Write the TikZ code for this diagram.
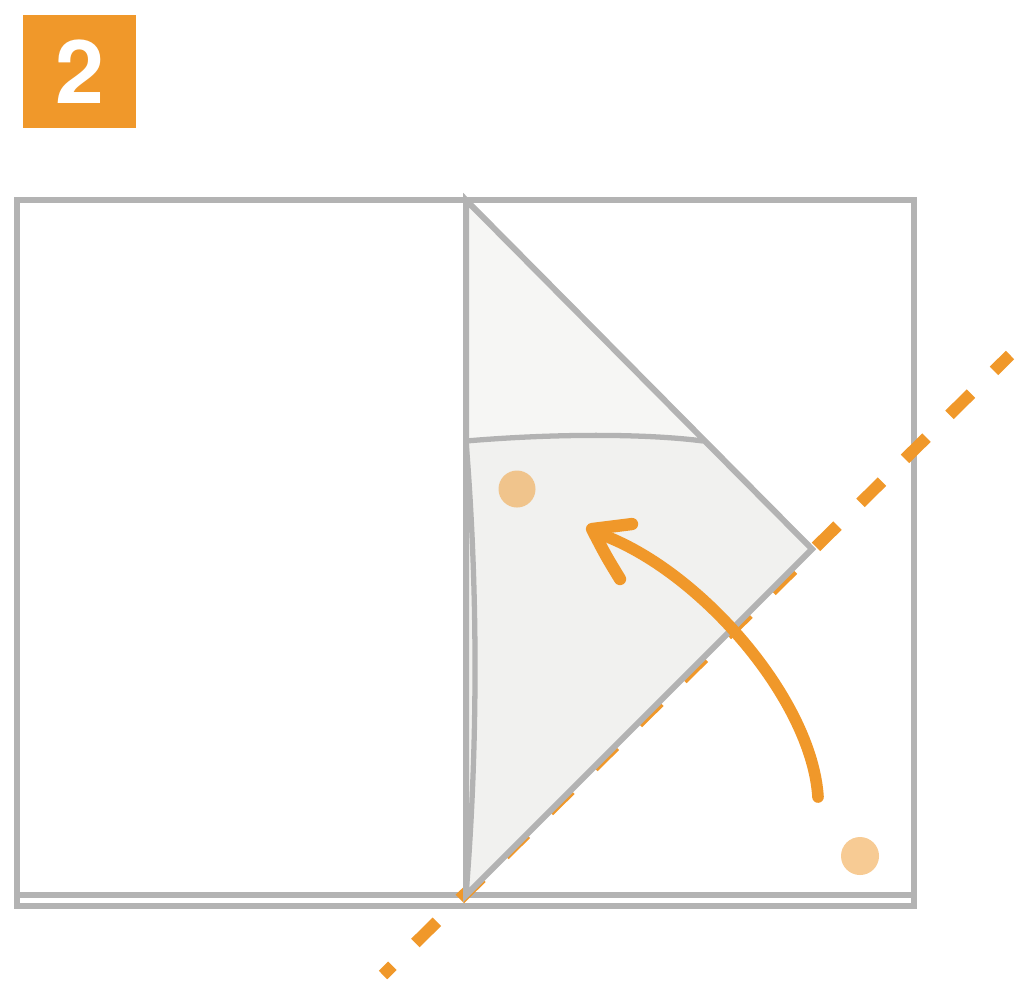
\documentclass[tikz,border=0pt]{standalone}
\usepackage{fontspec}
\newfontfamily\badgefont{TeX Gyre Heros}
\usepackage{xcolor}
\usetikzlibrary{positioning}
\definecolor{foldorange}{HTML}{F0982A}
\definecolor{papergray}{HTML}{B3B3B3}
\definecolor{flapupper}{HTML}{F6F6F4}
\definecolor{flaplower}{HTML}{F1F1EF}
\begin{document}
\begin{tikzpicture}[
  x=0.01cm,y=-0.01cm,
  paper/.style={draw=papergray,line width=1.7pt,line join=miter},
  crease/.style={draw=papergray,line width=1.5pt},
  foldline/.style={draw=foldorange,line width=3.4pt,dash pattern=on 8.6pt off 9.2pt,dash phase=2.2pt},
  spot/.style={fill=foldorange,fill opacity=0.5},
  swing/.style={draw=foldorange,line width=3.3pt,line cap=round,line join=round},
  badge/.style={fill=foldorange,minimum size=1.13cm,inner sep=0pt,text=white,
                font=\badgefont\bfseries\fontsize{25}{25}\selectfont}
]
\useasboundingbox (0,0) rectangle (1016,984);
\node[badge] (step) at (79.5,71.5) {2};
\coordinate (tl) at (17,200);
\coordinate (tr) at (914,200);
\coordinate (bl) at (17,906);
\coordinate (br) at (914,906);
\coordinate (apex) at (466,200);
\coordinate (tip) at (812,549);
\coordinate (foot) at (466,895);
\coordinate (mid) at (466,441);
\coordinate (edge) at (703,441);
\coordinate (foldend) at (1010,355);
\coordinate (foldstart) at (383,975);
\draw[paper] (tl) rectangle (br);
\draw[paper] (17,895) -- (914,895);
\draw[foldline] (foldend) -- (foldstart);
\fill[flapupper] (apex) -- (edge) .. controls (650,434) and (560,433) .. (mid) -- cycle;
\fill[flaplower] (mid) .. controls (560,433) and (650,434) .. (edge) -- (tip) -- (foot) -- cycle;
\draw[paper] (apex) -- (tip) -- (foot) -- cycle;
\draw[crease] (mid) .. controls (560,433) and (650,434) .. (edge);
\draw[crease] (mid) .. controls (479,600) and (477,760) .. (foot);
\fill[spot] (517,489) circle[radius=0.185cm];
\fill[spot] (860,856) circle[radius=0.19cm];
\coordinate (swingstart) at (818,797);
\coordinate (swingend) at (600,534);
\draw[swing] (swingstart) .. controls (812,700) and (700,570) .. (swingend);
\draw[swing,line width=3.5pt] (620,579) .. controls (606,556) .. (592,529) -- (632,524);
\end{tikzpicture}
\end{document}
